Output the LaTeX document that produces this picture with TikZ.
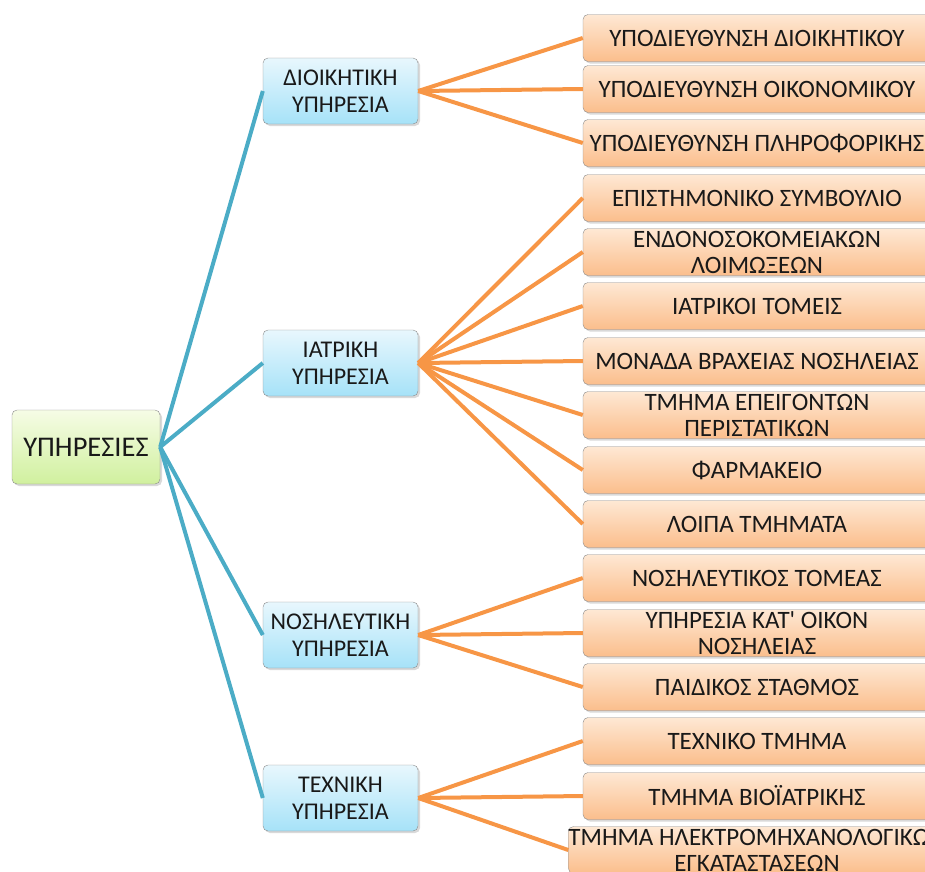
\documentclass[tikz,border=0pt]{standalone}
\usepackage{fontspec}
\newfontfamily\grfont{Carlito}
\usetikzlibrary{shadows}
\definecolor{linkblue}{RGB}{75,172,198}
\definecolor{linkorange}{RGB}{247,150,70}
\definecolor{rootTop}{RGB}{246,252,230}
\definecolor{rootBot}{RGB}{208,240,158}
\definecolor{unitTop}{RGB}{232,247,253}
\definecolor{unitBot}{RGB}{166,226,248}
\definecolor{leafTop}{RGB}{254,232,212}
\definecolor{leafBot}{RGB}{251,190,140}
\begin{document}
\begin{tikzpicture}[x=1pt, y=-1pt,
	box/.style={draw=black!45, rounded corners=5pt, inner sep=0pt, align=center, text=black!90,
		drop shadow={opacity=0.3, shadow xshift=2pt, shadow yshift=-2pt}},
	rootbox/.style={box, minimum width=148pt, minimum height=74pt, top color=rootTop, bottom color=rootBot,
		font=\grfont\fontsize{28.5}{31}\selectfont},
	unit/.style={box, minimum width=155pt, minimum height=66pt, top color=unitTop, bottom color=unitBot,
		font=\grfont\fontsize{24}{27}\selectfont},
	leaf/.style={box, minimum width=348pt, minimum height=47pt, top color=leafTop, bottom color=leafBot,
		font=\grfont\fontsize{25}{26}\selectfont},
	blueline/.style={draw=linkblue, line width=4pt},
	orangeline/.style={draw=linkorange, line width=4pt}]
			\useasboundingbox (0,0) rectangle (925,871);
			\clip (0,0) rectangle (925,871);
			\node[rootbox] (root) at (86, 447) {ΥΠΗΡΕΣΙΕΣ};
			\node[unit] (dioik) at (340.5, 91) {ΔΙΟΙΚΗΤΙΚΗ\\ΥΠΗΡΕΣΙΑ};
			\node[unit] (iatr) at (340.5, 363) {ΙΑΤΡΙΚΗ\\ΥΠΗΡΕΣΙΑ};
			\node[unit] (nosil) at (340.5, 635) {ΝΟΣΗΛΕΥΤΙΚΗ\\ΥΠΗΡΕΣΙΑ};
			\node[unit] (tech) at (340.5, 798) {ΤΕΧΝΙΚΗ\\ΥΠΗΡΕΣΙΑ};
			\node[leaf] (1) at (757, 38) {ΥΠΟΔΙΕΥΘΥΝΣΗ ΔΙΟΙΚΗΤΙΚΟΥ};
			\node[leaf] (2) at (757, 89) {ΥΠΟΔΙΕΥΘΥΝΣΗ ΟΙΚΟΝΟΜΙΚΟΥ};
			\node[leaf] (3) at (757, 143) {ΥΠΟΔΙΕΥΘΥΝΣΗ ΠΛΗΡΟΦΟΡΙΚΗΣ};
			\node[leaf] (4) at (757, 198) {ΕΠΙΣΤΗΜΟΝΙΚΟ ΣΥΜΒΟΥΛΙΟ};
			\node[leaf] (5) at (757, 252) {ΕΝΔΟΝΟΣΟΚΟΜΕΙΑΚΩΝ\\ΛΟΙΜΩΞΕΩΝ};
			\node[leaf] (6) at (757, 306) {ΙΑΤΡΙΚΟΙ ΤΟΜΕΙΣ};
			\node[leaf] (7) at (757, 361) {ΜΟΝΑΔΑ ΒΡΑΧΕΙΑΣ ΝΟΣΗΛΕΙΑΣ};
			\node[leaf] (8) at (757, 415) {ΤΜΗΜΑ ΕΠΕΙΓΟΝΤΩΝ\\ΠΕΡΙΣΤΑΤΙΚΩΝ};
			\node[leaf] (9) at (757, 470) {ΦΑΡΜΑΚΕΙΟ};
			\node[leaf] (10) at (757, 524) {ΛΟΙΠΑ ΤΜΗΜΑΤΑ};
			\node[leaf] (11) at (757, 578) {ΝΟΣΗΛΕΥΤΙΚΟΣ ΤΟΜΕΑΣ};
			\node[leaf] (12) at (757, 633) {ΥΠΗΡΕΣΙΑ ΚΑΤ' ΟΙΚΟΝ\\ΝΟΣΗΛΕΙΑΣ};
			\node[leaf] (13) at (757, 687) {ΠΑΙΔΙΚΟΣ ΣΤΑΘΜΟΣ};
			\node[leaf] (14) at (757, 741) {ΤΕΧΝΙΚΟ ΤΜΗΜΑ};
			\node[leaf] (15) at (757, 796) {ΤΜΗΜΑ ΒΙΟΪΑΤΡΙΚΗΣ};
			\node[leaf] (16) at (757, 850) {ΤΜΗΜΑ ΗΛΕΚΤΡΟΜΗΧΑΝΟΛΟΓΙΚΩΝ\\ΕΓΚΑΤΑΣΤΑΣΕΩΝ};
			% services
			\draw[blueline] (root.east) -- (dioik.west);
			\draw[blueline] (root.east) -- (iatr.west);
			\draw[blueline] (root.east) -- (nosil.west);
			\draw[blueline] (root.east) -- (tech.west);
			% departments
			\draw[orangeline] (dioik.east) -- (1.west); \draw[orangeline] (dioik.east) -- (2.west); \draw[orangeline] (dioik.east) -- (3.west);
			\draw[orangeline] (iatr.east) -- (4.west); \draw[orangeline] (iatr.east) -- (5.west);
			\draw[orangeline] (iatr.east) -- (6.west); \draw[orangeline] (iatr.east) -- (7.west);
			\draw[orangeline] (iatr.east) -- (8.west); \draw[orangeline] (iatr.east) -- (9.west);
			\draw[orangeline] (iatr.east) -- (10.west);
			\draw[orangeline] (nosil.east) -- (11.west); \draw[orangeline] (nosil.east) -- (12.west); \draw[orangeline] (nosil.east) -- (13.west);
			\draw[orangeline] (tech.east) -- (14.west); \draw[orangeline] (tech.east) -- (15.west); \draw[orangeline] (tech.east) -- (16.west);
\end{tikzpicture}
\end{document}
